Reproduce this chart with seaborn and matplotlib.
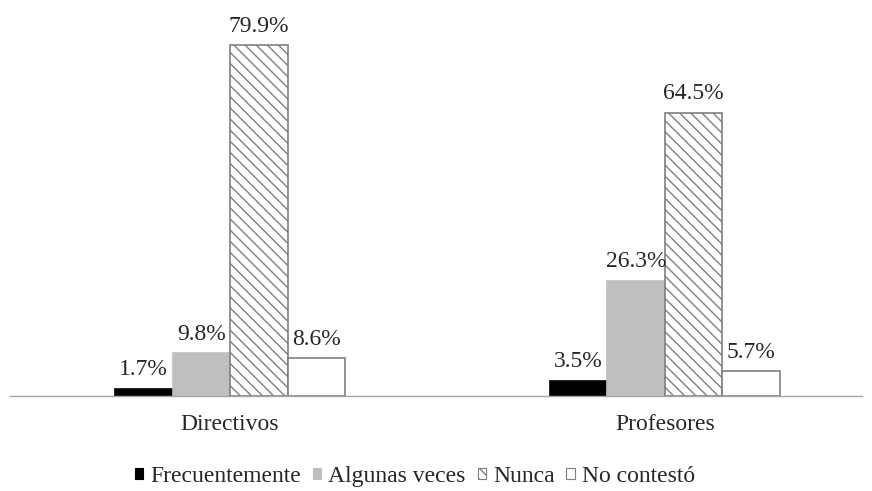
import matplotlib
matplotlib.use("Agg")
import matplotlib.pyplot as plt
import seaborn as sns
import pandas as pd
from matplotlib.patches import Patch

groups = ["Directivos", "Profesores"]
series = ["Frecuentemente", "Algunas veces", "Nunca", "No contestó"]
frecuentemente = [1.7, 3.5]
algunas_veces = [9.8, 26.3]
nunca = [79.9, 64.5]
no_contesto = [8.6, 5.7]

values = {"Frecuentemente": frecuentemente, "Algunas veces": algunas_veces,
          "Nunca": nunca, "No contestó": no_contesto}
rows = []
for s in series:
    for g, v in zip(groups, values[s]):
        rows.append({"grupo": g, "serie": s, "valor": v})
df = pd.DataFrame(rows)

sns.set_theme(style="white")
plt.rcParams['font.family'] = ['Liberation Serif', 'DejaVu Serif']
plt.rcParams['hatch.linewidth'] = 1.0
plt.rcParams['hatch.color'] = '#333333'

fills = ["#000000", "#bfbfbf", "#ffffff", "#ffffff"]
edges = ["#000000", "#bfbfbf", "#7f7f7f", "#7f7f7f"]
hatches = [None, None, "\\\\\\", None]
fs = 17

fig = plt.figure(figsize=(8.72, 4.91), dpi=100)
ax = fig.add_axes([0.0115, 0.1935, 0.977, 0.76])

sns.barplot(data=df, x="grupo", y="valor", hue="serie", hue_order=series,
            order=groups, ax=ax, width=0.529, gap=0, legend=False,
            palette=fills, saturation=1)

for i, cont in enumerate(ax.containers):
    for bar in cont:
        bar.set_facecolor(fills[i])
        bar.set_edgecolor(edges[i])
        bar.set_linewidth(1.2)
        if hatches[i]:
            bar.set_hatch(hatches[i])
    ax.bar_label(cont, labels=[f"{v:.1f}%" for v in cont.datavalues],
                 padding=6, fontsize=fs, color="#262626")

ax.set_xlim(-0.506, 1.453)
ax.set_ylim(0, 85)
ax.set_xlabel("")
ax.set_ylabel("")
ax.set_yticks([])
ax.tick_params(axis="x", length=0, labelsize=fs, pad=13, colors="#262626")
for s in ["left", "right", "top"]:
    ax.spines[s].set_visible(False)
ax.spines["bottom"].set_color("#a6a6a6")
ax.spines["bottom"].set_linewidth(1.0)

handles = [Patch(facecolor=fills[i], edgecolor=edges[i], hatch=hatches[i], linewidth=0.8)
           for i in range(4)]
fig.legend(handles, series, loc="center", bbox_to_anchor=(0.476, 0.03), ncol=4,
           frameon=False, fontsize=fs, handlelength=0.35, handleheight=0.35,
           handletextpad=0.3, columnspacing=0.5, labelcolor="#262626")

fig.savefig("out.png", dpi=100)
